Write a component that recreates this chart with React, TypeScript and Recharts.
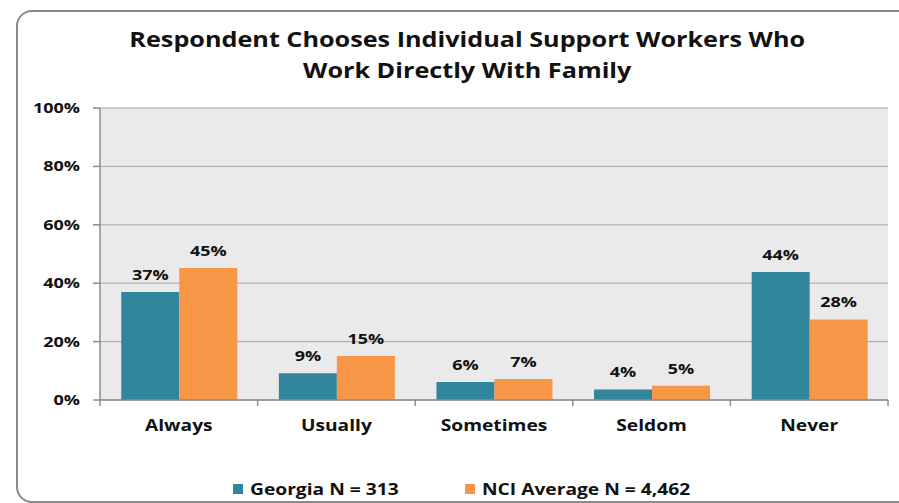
import React from "react";
import {
  BarChart,
  Bar,
  XAxis,
  YAxis,
  CartesianGrid,
  LabelList,
  Legend,
} from "recharts";

const categories = ["Always", "Usually", "Sometimes", "Seldom", "Never"];
const georgia = [37, 9.2, 6.2, 3.6, 43.8];
const nciAverage = [45.2, 15.1, 7.2, 4.9, 27.6];
const yTicks = [0, 20, 40, 60, 80, 100];

const seriesNames = ["Georgia N = 313", "NCI Average N = 4,462"];
const seriesColors = ["#31859C", "#F79646"];

const chartData = categories.map((name, i) => ({
  name,
  georgia: georgia[i],
  nci: nciAverage[i],
}));

const W = 899;
const H = 503;
const M = { top: 108, right: 11, left: 20, bottom: 36 };
const Y_AXIS_W = 80;
const FONT = "'Open Sans', sans-serif";
const STRETCH = 1.2;
const plotLeft = M.left + Y_AXIS_W;
const plotWidth = W - M.right - plotLeft;
const band = plotWidth / categories.length;

// the source picture is stretched sideways, so text is widened to match
const WideText = ({ x, y, anchor = "middle", size = 15, children }: any) => (
  <text
    transform={`translate(${x},${y}) scale(${STRETCH},1)`}
    textAnchor={anchor}
    fontFamily={FONT}
    fontWeight={700}
    fontSize={size}
    fill="#111"
  >
    {children}
  </text>
);

const CategoryTick = (props: any) => {
  const { x, y, payload, index } = props;
  const left = x - band / 2;
  return (
    <g>
      <line x1={left} y1={y - 8} x2={left} y2={y - 2} stroke="#8c8c8c" strokeWidth={1.5} />
      {index === categories.length - 1 && (
        <line x1={left + band} y1={y - 8} x2={left + band} y2={y - 2} stroke="#8c8c8c" strokeWidth={1.5} />
      )}
      <WideText x={x} y={y + 23} size={16}>
        {payload.value}
      </WideText>
    </g>
  );
};

const PercentTick = (props: any) => {
  const { x, y, payload } = props;
  return (
    <WideText x={x} y={y + 5} anchor="end">
      {`${payload.value}%`}
    </WideText>
  );
};

const BarValue = (props: any) => {
  const { x, y, width, value } = props;
  return (
    <WideText x={x + width / 2} y={y - 12}>
      {`${Math.round(Number(value))}%`}
    </WideText>
  );
};

const LegendContent = () => (
  <div
    style={{
      display: "flex",
      fontFamily: FONT,
      fontWeight: 700,
      fontSize: 16,
      color: "#111",
      paddingLeft: 233,
    }}
  >
    {seriesNames.map((n, i) => (
      <div key={n} style={{ display: "flex", alignItems: "center", width: i === 0 ? 232 : 260 }}>
        <span
          style={{
            display: "inline-block",
            width: 10,
            height: 10,
            background: seriesColors[i],
            marginRight: 7,
          }}
        />
        <span style={{ display: "inline-block", transform: `scaleX(${STRETCH})`, transformOrigin: "left center" }}>
          {n}
        </span>
      </div>
    ))}
  </div>
);

export default function App() {
  return (
    <div style={{ position: "absolute", left: 0, top: 0, width: W, height: H, background: "#fff", overflow: "hidden" }}>
      <div
        style={{
          position: "absolute",
          left: 16,
          top: 10,
          width: 920,
          height: 489,
          border: "2px solid #8a8a8a",
          borderRadius: 16,
        }}
      />
      <div
        style={{
          position: "absolute",
          left: 0,
          top: 24,
          width: 934,
          textAlign: "center",
          fontFamily: FONT,
          fontWeight: 700,
          fontSize: 21,
          lineHeight: "31px",
          color: "#111",
          transform: `scaleX(${STRETCH})`,
          transformOrigin: "466px 0",
        }}
      >
        Respondent Chooses Individual Support Workers Who
        <br />
        Work Directly With Family
      </div>
      <div style={{ position: "absolute", left: 0, top: 0 }}>
        <BarChart width={W} height={H} data={chartData} margin={M} barCategoryGap="13.5%" barGap={0}>
          <CartesianGrid vertical={false} stroke="#a6a6a6" strokeWidth={1} fill="#EAEAEA" />
          <XAxis
            dataKey="name"
            axisLine={{ stroke: "#8c8c8c", strokeWidth: 1.5 }}
            tickLine={false}
            tick={<CategoryTick />}
            interval={0}
            height={45}
          />
          <YAxis
            width={Y_AXIS_W}
            domain={[0, 100]}
            ticks={yTicks}
            axisLine={{ stroke: "#8c8c8c", strokeWidth: 1.5 }}
            tickLine={{ stroke: "#8c8c8c", strokeWidth: 1.5 }}
            tickSize={7}
            tickMargin={13}
            tick={<PercentTick />}
          />
          <Legend verticalAlign="bottom" content={<LegendContent />} wrapperStyle={{ bottom: 3, left: 0 }} />
          <Bar dataKey="georgia" name={seriesNames[0]} fill={seriesColors[0]} isAnimationActive={false}>
            <LabelList dataKey="georgia" content={<BarValue />} />
          </Bar>
          <Bar dataKey="nci" name={seriesNames[1]} fill={seriesColors[1]} isAnimationActive={false}>
            <LabelList dataKey="nci" content={<BarValue />} />
          </Bar>
        </BarChart>
      </div>
    </div>
  );
}
